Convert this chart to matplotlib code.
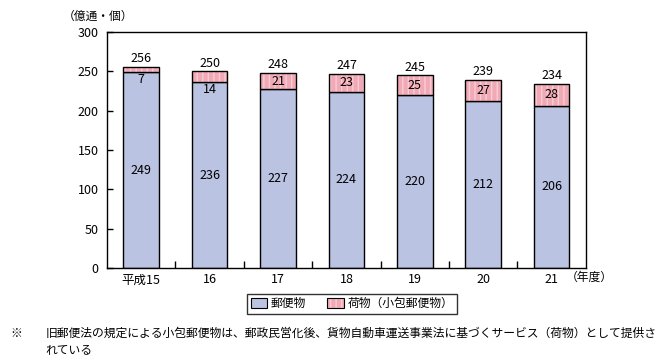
import numpy as np
import matplotlib
matplotlib.use("Agg")
import matplotlib.pyplot as plt
from matplotlib.patches import Patch

plt.rcParams['font.family'] = ['Noto Sans CJK JP', 'DejaVu Sans']

years = ['平成15', '16', '17', '18', '19', '20', '21']
yubin = [249, 236, 227, 224, 220, 212, 206]
nimotsu = [7, 14, 21, 23, 25, 27, 28]
totals = [256, 250, 248, 247, 245, 239, 234]

BLUE = '#BBC3E3'
PINK = '#F2A9B6'
PINK_LINE = '#F8CDD5'

fig = plt.figure(figsize=(6.65, 3.64), dpi=100)
ax = fig.add_axes([0.161, 0.264, 0.72, 0.648])

x = np.arange(len(years))
w = 0.52
ax.bar(x, yubin, w, color=BLUE, edgecolor='black', linewidth=1.0, zorder=2)
# pink with vertical stripes, outline drawn separately
ax.bar(x, nimotsu, w, bottom=yubin, color=PINK, edgecolor=PINK_LINE,
       hatch='|||', linewidth=0, zorder=2)
ax.bar(x, nimotsu, w, bottom=yubin, fill=False, edgecolor='black',
       linewidth=1.0, zorder=3)

fs = 9
jfs = 8.5
for i in range(len(x)):
    ax.text(x[i], yubin[i] / 2, str(yubin[i]), ha='center', va='center',
            fontsize=fs, zorder=4)
    if nimotsu[i] < 15:
        ax.text(x[i], yubin[i] - 1, str(nimotsu[i]), ha='center', va='top',
                fontsize=fs, zorder=4)
    else:
        ax.text(x[i], yubin[i] + nimotsu[i] / 2, str(nimotsu[i]), ha='center',
                va='center', fontsize=fs, zorder=4)
    ax.text(x[i], totals[i] + 2, str(totals[i]), ha='center', va='bottom',
            fontsize=fs, zorder=4)

ax.set_xlim(-0.5, len(years) - 0.5)
ax.set_ylim(0, 300)
ax.set_yticks(range(0, 301, 50))
ax.set_xticks(x)
ax.set_xticklabels(years, fontsize=fs)
ax.set_xticks(np.arange(0.5, len(years) - 0.5, 1), minor=True)
ax.tick_params(axis='x', which='major', length=0, pad=4)
ax.tick_params(axis='x', which='minor', direction='in', length=5, width=1)
ax.tick_params(axis='y', direction='in', length=4, width=1, labelsize=fs, pad=6)
for s in ax.spines.values():
    s.set_linewidth(1.0)

fig.text(0.095, 0.955, '（億通・個）', fontsize=jfs, ha='left', va='center')
fig.text(0.850, 0.238, '（年度）', fontsize=jfs, ha='left', va='center')

blue_h = Patch(facecolor=BLUE, edgecolor='black', linewidth=0.8)
pink_h = (Patch(facecolor=PINK, edgecolor=PINK_LINE, hatch='|||', linewidth=0),
          Patch(fill=False, edgecolor='black', linewidth=0.8))
leg = fig.legend([blue_h, pink_h], ['郵便物', '荷物（小包郵便物）'], loc='center',
                 bbox_to_anchor=(0.529, 0.166), ncol=2, fontsize=jfs,
                 frameon=True, fancybox=False, edgecolor='black',
                 handlelength=1.4, handleheight=1.0, handletextpad=0.3,
                 columnspacing=1.8, borderpad=0.3, borderaxespad=0)
leg.get_frame().set_linewidth(1.0)

fig.text(0.015, 0.085, '※', fontsize=jfs, ha='left', va='center')
fig.text(0.068, 0.085,
         '旧郵便法の規定による小包郵便物は、郵政民営化後、貨物自動車運送事業法に基づくサービス（荷物）として提供さ',
         fontsize=jfs, ha='left', va='center')
fig.text(0.068, 0.038, 'れている', fontsize=jfs, ha='left', va='center')

fig.savefig('out.png', dpi=100)
